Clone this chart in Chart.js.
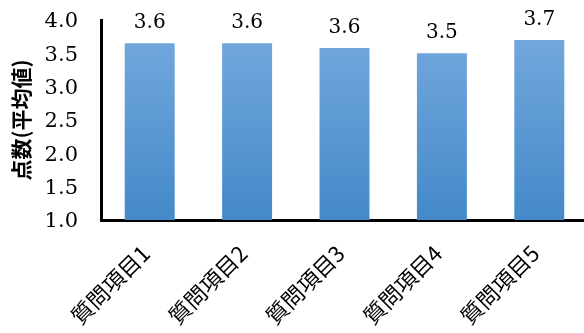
<!DOCTYPE html>
<html lang="ja">
<head>
<meta charset="UTF-8" />
<title>質問項目ごとの点数</title>
<style>
  html, body { margin: 0; padding: 0; overflow: hidden; background: #fff; }
  #wrap { width: 588px; height: 333px; position: relative; }
</style>
</head>
<body>
<div id="wrap"><canvas id="chart"></canvas></div>

<script src="https://cdn.jsdelivr.net/npm/chart.js"></script>
<script>
  // データ
  const categories = ["質問項目1", "質問項目2", "質問項目3", "質問項目4", "質問項目5"];
  const scores = [3.65, 3.65, 3.58, 3.50, 3.70];
  const scoreLabels = ["3.6", "3.6", "3.6", "3.5", "3.7"];
  const yTicks = [1.0, 1.5, 2.0, 2.5, 3.0, 3.5, 4.0];

  const numFont = "'DejaVu Serif', 'Liberation Serif', serif";
  const jpFont = "'Noto Sans CJK JP', sans-serif";

  // 棒の上に値を表示
  const valueLabels = {
    id: "valueLabels",
    afterDatasetsDraw(chart) {
      const ctx = chart.ctx;
      const meta = chart.getDatasetMeta(0);
      ctx.save();
      ctx.font = "20px " + numFont;
      ctx.fillStyle = "#000";
      ctx.textAlign = "center";
      ctx.textBaseline = "alphabetic";
      meta.data.forEach((bar, i) => {
        ctx.fillText(scoreLabels[i], bar.x, bar.y - 15);
      });
      ctx.restore();
    }
  };

  function barGradient(context) {
    const area = context.chart.chartArea;
    if (!area) return "#5b9bd5";
    const g = context.chart.ctx.createLinearGradient(0, area.top + 20, 0, area.bottom);
    g.addColorStop(0, "#71a7dc");
    g.addColorStop(1, "#4489c9");
    return g;
  }

  new Chart(document.getElementById("chart"), {
    type: "bar",
    data: {
      labels: categories,
      datasets: [{
        data: scores,
        backgroundColor: barGradient,
        borderWidth: 0,
        barPercentage: 0.513,
        categoryPercentage: 1.0
      }]
    },
    options: {
      responsive: true,
      maintainAspectRatio: false,
      animation: false,
      layout: { padding: 0 },
      plugins: {
        legend: { display: false },
        tooltip: { enabled: false }
      },
      scales: {
        y: {
          min: 1,
          max: 4,
          afterBuildTicks(axis) {
            axis.ticks = yTicks.map(v => ({ value: v }));
          },
          afterFit(scale) {
            scale.width = 101;
            scale.paddingTop = 20;
            scale.paddingBottom = 12;
          },
          grid: { display: false, drawTicks: false },
          border: { display: true, color: "#000", width: 3 },
          ticks: {
            color: "#000",
            font: { family: numFont, size: 21 },
            padding: 23,
            labelOffset: 2,
            callback: v => Number(v).toFixed(1)
          },
          title: {
            display: true,
            text: "点数(平均値)",
            color: "#000",
            font: { family: jpFont, size: 21, weight: "bold" },
            padding: { top: 8, bottom: 4 }
          }
        },
        x: {
          afterFit(scale) {
            scale.height = 113;
          },
          grid: { display: false, drawTicks: false },
          border: { display: true, color: "#000", width: 3 },
          ticks: {
            color: "#000",
            font: { family: jpFont, size: 22 },
            minRotation: 45,
            maxRotation: 45,
            padding: 20,
            labelOffset: -4,
            autoSkip: false
          }
        }
      }
    },
    plugins: [valueLabels]
  });
</script>
</body>
</html>
